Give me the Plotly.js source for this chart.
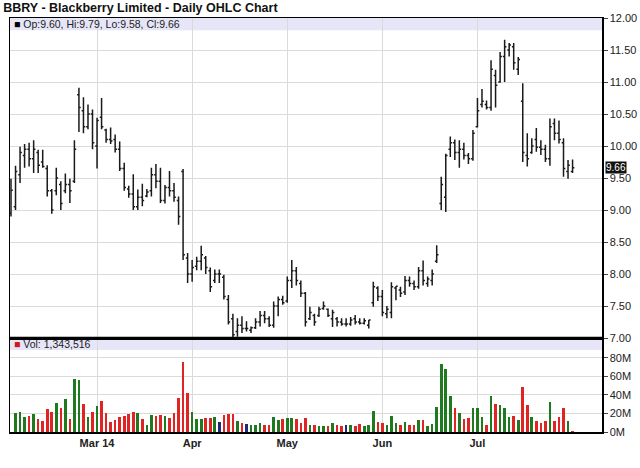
<!DOCTYPE html>
<html>
<head>
<meta charset="utf-8">
<script src="https://cdn.plot.ly/plotly-3.0.1.min.js"></script>
<style>html,body{margin:0;padding:0;background:#fff;}#chart{width:640px;height:468px;}</style>
</head>
<body>
<div id="chart"></div>
<script>
// Daily OHLC, BBRY, Feb 3 2014 .. Jul 31 2014 (trading days, index 0..124)
const openP = [8.95,9.05,9.55,9.85,9.95,9.80,9.90,9.75,9.65,9.30,
9.30,9.40,9.30,9.40,9.45,10.80,10.55,10.30,10.50,10.00,
10.45,10.25,10.10,10.10,9.95,9.65,9.33,9.25,9.05,9.20,
9.22,9.30,9.55,9.45,9.15,9.35,9.30,9.15,9.60,8.25,
8.00,8.12,8.20,8.25,8.05,7.90,8.00,7.95,7.60,7.30,
7.10,7.20,7.15,7.12,7.16,7.25,7.35,7.30,7.20,7.50,
7.60,7.58,7.90,8.05,7.85,7.70,7.30,7.35,7.35,7.46,
7.45,7.30,7.30,7.25,7.22,7.22,7.30,7.25,7.23,7.20,
7.55,7.78,7.65,7.38,7.40,7.78,7.75,7.72,7.90,7.85,
7.80,8.05,7.85,7.90,8.20,9.10,9.20,9.95,10.05,9.90,
9.95,9.85,9.80,10.30,10.65,10.65,10.60,11.10,11.00,11.40,
11.50,11.55,11.20,10.70,9.85,9.90,10.10,9.98,9.95,9.80,
10.35,10.20,10.05,9.60,9.60];
const highP = [9.49,9.69,9.99,10.03,10.05,10.09,9.94,9.94,9.70,9.33,
9.66,9.45,9.57,9.49,10.09,10.91,10.76,10.65,10.57,10.44,
10.75,10.27,10.29,10.18,10.07,9.74,9.38,9.56,9.32,9.41,
9.33,9.66,9.72,9.66,9.39,9.61,9.42,9.21,9.64,8.33,
8.22,8.27,8.44,8.28,8.10,8.07,8.07,7.99,7.67,7.38,
7.31,7.34,7.26,7.18,7.31,7.42,7.42,7.34,7.57,7.65,
7.66,7.96,8.22,8.11,7.90,7.72,7.49,7.38,7.49,7.57,
7.46,7.44,7.33,7.31,7.31,7.33,7.36,7.31,7.31,7.28,
7.88,7.81,7.75,7.50,7.87,7.81,7.80,7.97,7.96,7.90,
8.11,8.21,7.96,8.07,8.45,9.52,9.88,10.15,10.10,10.09,
10.05,9.89,10.25,10.75,10.89,10.71,11.34,11.19,11.47,11.66,
11.61,11.61,11.39,10.98,10.20,10.12,10.28,10.09,10.02,10.43,
10.43,10.40,10.12,9.78,9.79];
const lowP = [8.90,9.00,9.42,9.66,9.68,9.58,9.58,9.66,9.21,8.94,
9.23,9.00,9.26,9.11,9.42,10.22,10.20,10.26,9.95,9.65,
10.26,10.05,10.03,9.90,9.61,9.30,9.19,9.00,9.00,9.06,
9.20,9.21,9.34,9.11,9.10,9.21,9.13,8.77,8.22,7.86,
7.88,8.06,8.06,8.00,7.72,7.86,7.86,7.60,7.21,6.98,
7.02,7.08,7.10,7.08,7.14,7.18,7.23,7.17,7.16,7.34,
7.52,7.55,7.78,7.82,7.64,7.18,7.28,7.19,7.33,7.44,
7.33,7.17,7.18,7.19,7.18,7.19,7.21,7.21,7.21,7.15,
7.49,7.58,7.34,7.31,7.31,7.59,7.64,7.67,7.80,7.75,
7.77,7.82,7.80,7.82,8.17,9.00,8.97,9.83,9.78,9.66,
9.79,9.72,9.77,10.29,10.60,10.57,10.55,10.60,10.99,11.00,
11.40,11.19,11.11,9.75,9.68,9.88,9.91,9.86,9.75,9.69,
10.09,10.04,9.52,9.49,9.58];
const closeP = [9.31,9.60,9.90,9.95,9.80,9.95,9.70,9.68,9.30,9.00,
9.50,9.10,9.40,9.30,9.95,10.60,10.30,10.50,10.05,10.40,
10.30,10.10,10.08,9.95,9.65,9.35,9.25,9.05,9.20,9.15,
9.28,9.55,9.45,9.15,9.35,9.30,9.20,8.90,8.30,8.00,
8.10,8.20,8.30,8.10,7.80,8.00,8.00,7.65,7.25,7.05,
7.20,7.15,7.15,7.16,7.25,7.35,7.30,7.20,7.50,7.60,
7.55,7.90,8.05,7.90,7.70,7.25,7.40,7.25,7.45,7.50,
7.35,7.40,7.25,7.22,7.22,7.28,7.25,7.23,7.27,7.28,
7.80,7.65,7.40,7.45,7.80,7.81,7.70,7.90,7.85,7.80,
8.05,7.90,7.92,8.00,8.30,9.40,9.85,10.05,9.90,9.95,
9.85,9.80,10.20,10.55,10.70,10.60,11.20,10.95,11.40,11.55,
11.58,11.30,11.35,9.90,9.80,10.00,9.98,9.95,9.80,10.30,
10.20,10.10,9.65,9.70,9.66];
// volume in millions of shares
const volumeM = [null,20.2,22.0,16.6,17.7,19.5,13.7,12.3,24.5,21.3,
31.0,25.6,35.3,14.4,56.9,56.2,29.9,16.2,21.3,28.1,
33.2,20.2,10.5,12.6,16.6,17.3,19.5,21.3,20.2,14.4,
7.6,18.4,17.3,18.4,17.3,15.5,20.9,37.1,76.0,41.8,
21.3,14.4,14.4,14.8,15.5,16.6,10.5,18.0,19.1,19.5,
12.3,9.4,8.6,7.6,7.6,9.4,7.6,7.6,16.6,13.0,
14.1,15.5,14.8,13.7,9.4,15.5,7.6,7.6,6.5,6.5,
6.5,10.1,7.6,6.8,7.6,7.6,6.5,8.6,6.5,7.6,
22.7,11.2,9.4,7.6,17.3,9.4,7.6,11.2,7.6,7.6,
13.0,13.0,6.8,8.3,27.4,73.5,68.1,38.9,25.6,20.2,
13.7,15.5,26.3,25.6,16.6,7.6,38.9,30.3,29.2,26.3,
16.6,17.7,13.3,48.3,29.2,16.2,12.3,10.1,12.3,32.1,
12.3,16.6,26.3,11.5,1.343516];
const monthTickIdx = [19, 40, 61, 82, 103];
const monthTickText = ['Mar 14', 'Apr', 'May', 'Jun', 'Jul'];
const priceTicks = [7, 7.5, 8, 8.5, 9, 9.5, 10, 10.5, 11, 11.5, 12];
const volTicks = [0, 20, 40, 60, 80];
const lastBar = {op: '9.60', hi: '9.79', lo: '9.58', cl: '9.66'};
const lastVolumeText = '1,343,516';
const titleText = 'BBRY - Blackberry Limited - Daily OHLC Chart';

const xIdx = closeP.map((_, i) => i);
const volColors = closeP.map((c, i) => {
  if (i === 0) return '#1f7a1f';
  const d = c - closeP[i - 1];
  if (Math.abs(d) < 1e-9) return '#1c2a80';
  return d > 0 ? '#1f7a1f' : '#e02424';
});

const FONT = 'Liberation Sans, Arial, sans-serif';
const volTop = 101.6;
const split = 94 / 414;

const traces = [
  {
    type: 'ohlc', x: xIdx, open: openP, high: highP, low: lowP, close: closeP,
    xaxis: 'x2', yaxis: 'y2', tickwidth: 0.4,
    increasing: {line: {color: '#1a1a1a', width: 1.5}},
    decreasing: {line: {color: '#1a1a1a', width: 1.5}},
    hoverinfo: 'skip', showlegend: false
  },
  {
    type: 'bar', x: xIdx, y: volumeM, xaxis: 'x', yaxis: 'y', width: 0.58,
    marker: {color: volColors, line: {width: 0}}, hoverinfo: 'skip', showlegend: false
  }
];

const gridC = '#dadada';
const layout = {
  width: 640, height: 468,
  margin: {l: 10, r: 38, t: 18, b: 36},
  paper_bgcolor: '#ffffff', plot_bgcolor: '#ffffff',
  font: {family: FONT, size: 11, color: '#222'},
  showlegend: false,
  bargap: 0,
  title: {text: '<b>' + titleText + '</b>', xref: 'container', yref: 'container',
          x: 0.005, xanchor: 'left', y: 0.983, yanchor: 'middle',
          font: {family: FONT, size: 12.5, color: '#111'}},
  xaxis: {domain: [0, 1], anchor: 'y', range: [-0.22, 130.5], tickmode: 'array',
          tickvals: monthTickIdx, ticktext: monthTickText.map(t => '<b>' + t + '</b>'),
          showgrid: true, gridcolor: gridC, gridwidth: 1, zeroline: false,
          showline: true, linecolor: '#000', linewidth: 1.5, mirror: true,
          ticks: '', tickfont: {family: FONT, size: 11, color: '#222'}, fixedrange: true},
  xaxis2: {domain: [0, 1], anchor: 'y2', matches: 'x', range: [-0.22, 130.5], tickmode: 'array',
           tickvals: monthTickIdx, showticklabels: false, showgrid: true, gridcolor: gridC,
           zeroline: false, showline: true, linecolor: '#000', linewidth: 1.5, mirror: true,
           ticks: '', rangeslider: {visible: false}, fixedrange: true},
  yaxis: {domain: [0, split], anchor: 'x', side: 'right', range: [0, volTop],
          tickmode: 'array', tickvals: volTicks, ticktext: volTicks.map(v => v + 'M'),
          showgrid: true, gridcolor: gridC, zeroline: false,
          showline: true, linecolor: '#000', linewidth: 1.5, mirror: true,
          ticks: 'outside', ticklen: 4, tickcolor: '#444', tickfont: {family: FONT, size: 11, color: '#222'}},
  yaxis2: {domain: [split, 1], anchor: 'x2', side: 'right', range: [7, 12],
           tickmode: 'array', tickvals: priceTicks, ticktext: priceTicks.map(v => v.toFixed(2)),
           showgrid: true, gridcolor: gridC, zeroline: false,
           showline: true, linecolor: '#000', linewidth: 1.5, mirror: true,
           ticks: 'outside', ticklen: 4, tickcolor: '#444', tickfont: {family: FONT, size: 11, color: '#222'}},
  shapes: [
    {type: 'rect', xref: 'paper', yref: 'y2', x0: 0, x1: 1, y0: 11.81, y1: 12,
     fillcolor: '#e6e6f8', line: {width: 0}, layer: 'below'},
    {type: 'rect', xref: 'paper', yref: 'y', x0: 0, x1: 1, y0: 88.6, y1: volTop,
     fillcolor: '#e6e6f8', line: {width: 0}, layer: 'below'},
    {type: 'line', xref: 'paper', yref: 'paper', x0: 0, x1: 1, y0: split, y1: split,
     line: {color: '#000', width: 2.5}}
  ],
  annotations: [
    {xref: 'paper', yref: 'y2', x: 0, y: 11.905, xanchor: 'left', yanchor: 'middle', xshift: 2,
     showarrow: false, font: {family: FONT, size: 10.5, color: '#222'},
     text: '<span style="color:#000">■</span> Op:' + lastBar.op + ', Hi:' + lastBar.hi + ', Lo:' + lastBar.lo + ', Cl:' + lastBar.cl},
    {xref: 'paper', yref: 'y', x: 0, y: 95.1, xanchor: 'left', yanchor: 'middle', xshift: 2,
     showarrow: false, font: {family: FONT, size: 10.5, color: '#222'},
     text: '<span style="color:#d01818">■</span> Vol: ' + lastVolumeText},
    {xref: 'paper', yref: 'y2', x: 1, y: 9.66, xanchor: 'left', yanchor: 'middle', xshift: 3,
     showarrow: false, bgcolor: '#111', borderpad: 0,
     font: {family: FONT, size: 10, color: '#fff'}, text: lastBar.cl}
  ]
};

Plotly.newPlot('chart', traces, layout, {staticPlot: true, displayModeBar: false});
</script>
</body>
</html>
